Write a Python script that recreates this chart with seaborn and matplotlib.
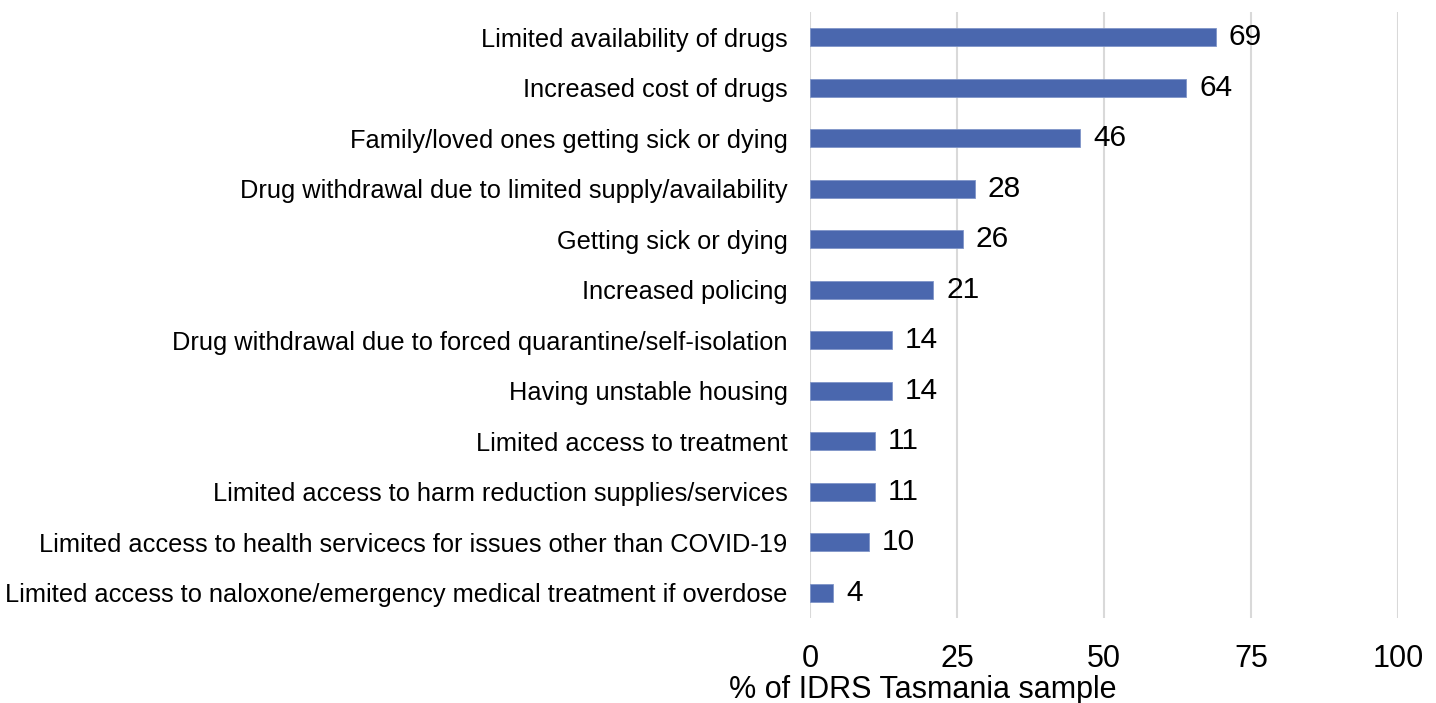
import matplotlib
matplotlib.use("Agg")
import matplotlib.pyplot as plt
import seaborn as sns
import pandas as pd

categories = [
    "Limited availability of drugs",
    "Increased cost of drugs",
    "Family/loved ones getting sick or dying",
    "Drug withdrawal due to limited supply/availability",
    "Getting sick or dying",
    "Increased policing",
    "Drug withdrawal due to forced quarantine/self-isolation",
    "Having unstable housing",
    "Limited access to treatment",
    "Limited access to harm reduction supplies/services",
    "Limited access to health servicecs for issues other than COVID-19",
    "Limited access to naloxone/emergency medical treatment if overdose",
]
values = [69, 64, 46, 28, 26, 21, 14, 14, 11, 11, 10, 4]
x_ticks = [0, 25, 50, 75, 100]
x_label = "% of IDRS Tasmania sample"

df = pd.DataFrame({"concern": categories, "pct": values})

sns.set_theme(style="white")
plt.rcParams["font.family"] = ["Liberation Sans", "DejaVu Sans"]
plt.rcParams["text.color"] = "black"
plt.rcParams["xtick.color"] = "black"
plt.rcParams["ytick.color"] = "black"
plt.rcParams["axes.labelcolor"] = "black"

fig = plt.figure(figsize=(14.36, 7.03), dpi=100)
ax = fig.add_axes([0.564, 0.121, 0.4095, 0.862])

sns.barplot(data=df, x="pct", y="concern", orient="h", color="#4a67ae",
            saturation=1, width=0.36, ax=ax, zorder=3)

for patch in ax.patches:
    patch.set_edgecolor("#7f95c8")
    patch.set_linewidth(0.6)

for i, v in enumerate(values):
    ax.text(v + 2.2, i, str(v), va="center", ha="left", fontsize=21.5, color="black")

ax.set_xlim(0, 100)
ax.set_ylim(len(categories) - 0.5, -0.5)
ax.set_xticks(x_ticks)
ax.set_xticklabels([str(t) for t in x_ticks], fontsize=22)
ax.tick_params(axis="x", length=0, pad=19)
ax.tick_params(axis="y", length=0, pad=16, labelsize=18.3)
ax.set_xlabel(x_label, fontsize=22, labelpad=0)
ax.xaxis.set_label_coords(0.192, -0.094)
ax.set_ylabel("")
ax.grid(axis="x", color="#d9d9d9", linewidth=1.5, zorder=0)
ax.grid(axis="y", visible=False)
for s in ax.spines.values():
    s.set_visible(False)

fig.savefig("out.png", dpi=100)
